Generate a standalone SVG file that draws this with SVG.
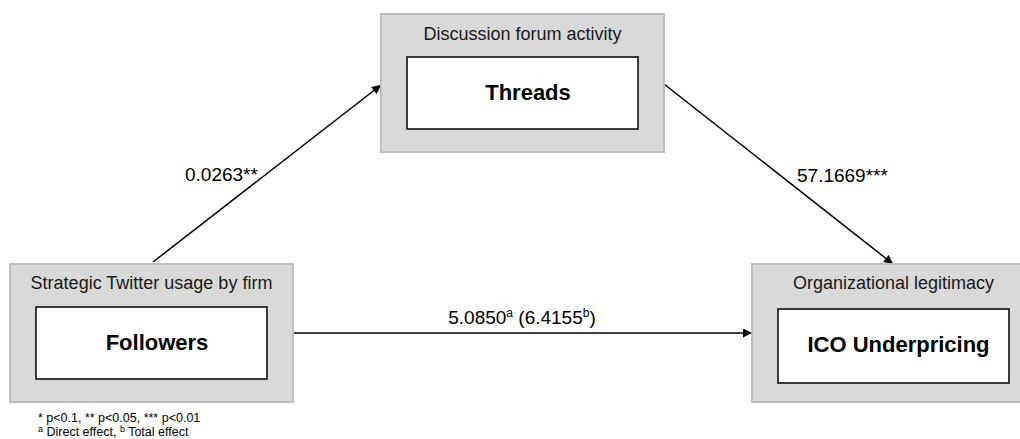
<svg xmlns="http://www.w3.org/2000/svg" width="1020" height="439" viewBox="0 0 1020 439">
<style>
.outer{fill:#d9d9d9;stroke:#bfbfbf;stroke-width:2}
.inner{fill:#fff;stroke:#000;stroke-width:1.5}
.hdr{font-family:"Liberation Sans",Arial,sans-serif;font-size:18px;fill:#1a1a1a;text-anchor:middle}
.main{font-family:"Liberation Sans",Arial,sans-serif;font-size:22px;font-weight:bold;fill:#000;text-anchor:middle}
.lbl{font-family:"Liberation Sans",Arial,sans-serif;font-size:19px;fill:#000}
.note{font-family:"Liberation Sans",Arial,sans-serif;font-size:12.5px;fill:#000}
.edge{stroke:#000;stroke-width:1.5;fill:none;marker-end:url(#arr)}
</style>
<defs>
<marker id="arr" viewBox="0 0 10 10" refX="10" refY="5" markerWidth="10" markerHeight="9" markerUnits="userSpaceOnUse" orient="auto">
<path d="M0,0 L10,5 L0,10 z" fill="#000"/>
</marker>
</defs>
<rect width="1020" height="439" fill="#fff"/>
<g id="connectors">
<line class="edge" x1="153" y1="262" x2="381" y2="85"/>
<line class="edge" x1="664" y1="84" x2="893" y2="264"/>
<line class="edge" x1="293" y1="333" x2="752" y2="333"/>
</g>
<g id="node-threads">
<rect class="outer" x="381" y="14" width="283" height="138"/>
<text class="hdr" x="522.5" y="40">Discussion forum activity</text>
<rect class="inner" x="407" y="57" width="231" height="72"/>
<text class="main" x="528" y="100">Threads</text>
</g>
<g id="node-followers">
<rect class="outer" x="10" y="264" width="283" height="138"/>
<text class="hdr" x="151.5" y="289">Strategic Twitter usage by firm</text>
<rect class="inner" x="36" y="307" width="231" height="72"/>
<text class="main" x="157" y="350">Followers</text>
</g>
<g id="node-ico">
<rect class="outer" x="752" y="264" width="283" height="138"/>
<text class="hdr" x="893.5" y="289">Organizational legitimacy</text>
<rect class="inner" x="778" y="309" width="231" height="74"/>
<text class="main" x="898.5" y="352">ICO Underpricing</text>
</g>
<g id="labels">
<text class="lbl" x="185" y="181">0.0263**</text>
<text class="lbl" x="797" y="182">57.1669***</text>
<text class="lbl" x="522" y="324" text-anchor="middle">5.0850<tspan font-size="12" dy="-7">a</tspan><tspan dy="7"> (6.4155</tspan><tspan font-size="12" dy="-7">b</tspan><tspan dy="7">)</tspan></text>
<text class="note" x="38" y="422">* p&lt;0.1, ** p&lt;0.05, *** p&lt;0.01</text>
<text class="note" x="38" y="436"><tspan font-size="9" dy="-4">a</tspan><tspan dy="4"> Direct effect,  </tspan><tspan font-size="9" dy="-4">b</tspan><tspan dy="4"> Total effect</tspan></text>
</g>
</svg>
